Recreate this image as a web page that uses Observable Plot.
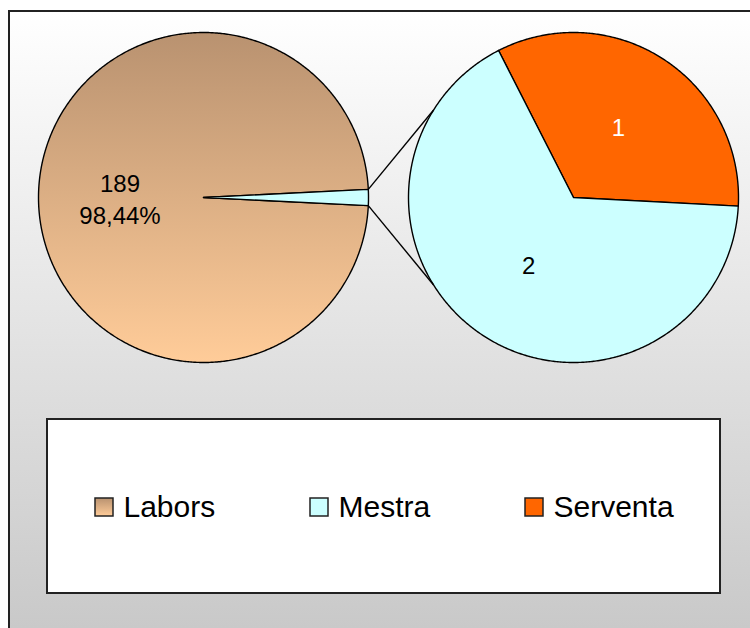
<!DOCTYPE html>
<html>
<head>
<meta charset="utf-8">
<script src="https://cdn.jsdelivr.net/npm/d3@7"></script>
<script src="https://cdn.jsdelivr.net/npm/@observablehq/plot@0.6"></script>
<style>
  html, body { margin: 0; padding: 0; background: #ffffff; }
  svg { display: block; }
</style>
</head>
<body>
<div id="chart"></div>
<script>
// ---- data ----
const categories = ["Labors", "Mestra", "Serventa"];
const values = [189, 2, 1];
const firstPieCategory = "Labors";            // shown in the main pie
const secondPieCategories = ["Serventa", "Mestra"]; // split out into the second pie

// ---- styles / layout ----
const W = 750, H = 628;
const colors = { Labors: "url(#gradLab)", Mestra: "#ccffff", Serventa: "#ff6600" };
const labelColors = { Labors: "#000000", Mestra: "#000000", Serventa: "#ffffff" };
const leftPie = { cx: 203, cy: 197, r: 165 };
const rightPie = { cx: 573, cy: 197, r: 165 };
const deg = Math.PI / 180;
const secondPieStart = -27 * deg;
const connectorSpread = 32 * deg;
const legendX0 = 95, legendStep = 215, legendY = 507, swatch = 18;
const edge = 1.4;

const total = d3.sum(values);
const valueOf = name => values[categories.indexOf(name)];
const otherTotal = d3.sum(secondPieCategories, valueOf);
const otherAngle = otherTotal / total * 2 * Math.PI;

function pt(c, a, f = 1) {
  return { x: c.cx + f * c.r * Math.sin(a), y: c.cy - f * c.r * Math.cos(a) };
}
function slice(c, a0, a1, key) {
  const pts = [{ x: c.cx, y: c.cy, key }];
  const n = Math.max(2, Math.ceil(Math.abs(a1 - a0) / (0.5 * deg)));
  for (let i = 0; i <= n; ++i) pts.push({ ...pt(c, a0 + (a1 - a0) * i / n), key });
  pts.push({ x: c.cx, y: c.cy, key });
  return pts;
}

// main pie: "other" wedge centred on the east side
const otherA0 = Math.PI / 2 - otherAngle / 2;
const otherA1 = Math.PI / 2 + otherAngle / 2;
const laborsSlice = slice(leftPie, otherA1, otherA0 + 2 * Math.PI, "Labors");
const otherSlice = slice(leftPie, otherA0, otherA1, "Other");
const laborsMid = (otherA1 + otherA0 + 2 * Math.PI) / 2;
const pct = (valueOf(firstPieCategory) / total * 100).toFixed(2).replace(".", ",");
const leftLabels = [{ ...pt(leftPie, laborsMid, 0.5), text: `${valueOf(firstPieCategory)}\n${pct}%`, name: "Labors" }];

// second pie
const arcs = d3.pie().sort(null).value(valueOf).startAngle(secondPieStart).endAngle(secondPieStart + 2 * Math.PI)(secondPieCategories);
const secondSlices = arcs.map(a => ({ name: a.data, pts: slice(rightPie, a.startAngle, a.endAngle, a.data), mid: (a.startAngle + a.endAngle) / 2 }));
const rightLabels = secondSlices.map(s => ({ ...pt(rightPie, s.mid, 0.5), text: String(valueOf(s.name)), name: s.name }));

// connector lines
const p1 = pt(leftPie, otherA0), p2 = pt(leftPie, otherA1);
const q1 = pt(rightPie, 1.5 * Math.PI + connectorSpread), q2 = pt(rightPie, 1.5 * Math.PI - connectorSpread);
const connectors = [
  { x1: p1.x, y1: p1.y, x2: q1.x, y2: q1.y },
  { x1: p2.x, y1: p2.y, x2: q2.x, y2: q2.y }
];

// legend
const legend = categories.map((name, i) => ({ name, x: legendX0 + i * legendStep, fill: colors[name] }));

const defsMark = () => {
  const g = d3.create("svg:g");
  const defs = g.append("defs");
  const bg = defs.append("linearGradient").attr("id", "gradBg")
    .attr("gradientUnits", "userSpaceOnUse").attr("x1", 0).attr("y1", 11).attr("x2", 0).attr("y2", 628);
  bg.append("stop").attr("offset", "0%").attr("stop-color", "#ffffff");
  bg.append("stop").attr("offset", "100%").attr("stop-color", "#c9c9c9");
  const lab = defs.append("linearGradient").attr("id", "gradLab")
    .attr("x1", 0).attr("y1", 0).attr("x2", 0).attr("y2", 1);
  lab.append("stop").attr("offset", "0%").attr("stop-color", "#b99270");
  lab.append("stop").attr("offset", "100%").attr("stop-color", "#ffcc99");
  return g.node();
};

const chart = Plot.plot({
  width: W,
  height: H,
  margin: 0,
  x: { domain: [0, W], range: [0, W], axis: null },
  y: { domain: [0, H], range: [0, H], axis: null },
  color: { type: "identity" },
  style: { fontFamily: "'Liberation Sans', Arial, sans-serif", background: "#ffffff", overflow: "hidden" },
  marks: [
    defsMark,
    // chart area background & border
    Plot.rect([{}], { x1: () => 9, x2: () => 800, y1: () => 11, y2: () => 700, fill: "url(#gradBg)", stroke: "#222222", strokeWidth: 2 }),
    // main pie
    Plot.line(laborsSlice, { x: "x", y: "y", fill: colors.Labors, stroke: "#000", strokeWidth: edge }),
    Plot.line(otherSlice, { x: "x", y: "y", fill: colors.Mestra, stroke: "#000", strokeWidth: edge }),
    // second pie
    ...secondSlices.map(s => Plot.line(s.pts, { x: "x", y: "y", fill: colors[s.name], stroke: "#000", strokeWidth: edge })),
    // connectors
    Plot.link(connectors, { x1: "x1", y1: "y1", x2: "x2", y2: "y2", stroke: "#000", strokeWidth: edge }),
    // slice labels
    Plot.text(leftLabels, { x: d => d.x - 1, y: "y", text: "text", fontSize: 24, lineHeight: 1.33, fill: d => labelColors[d.name] }),
    Plot.text(rightLabels, { x: "x", y: "y", text: "text", fontSize: 24, fill: d => labelColors[d.name] }),
    // legend box
    Plot.rect([{}], { x1: () => 47, x2: () => 720, y1: () => 419, y2: () => 593, fill: "#ffffff", stroke: "#222222", strokeWidth: 2 }),
    Plot.rect(legend, { x1: "x", x2: d => d.x + swatch, y1: () => legendY - swatch / 2, y2: () => legendY + swatch / 2, fill: "fill", stroke: "#222222", strokeWidth: 1.5 }),
    Plot.text(legend, { x: d => d.x + swatch + 10, y: () => legendY, text: "name", textAnchor: "start", fontSize: 30, fill: "#000000" })
  ]
});

document.getElementById("chart").appendChild(chart);
</script>
</body>
</html>
